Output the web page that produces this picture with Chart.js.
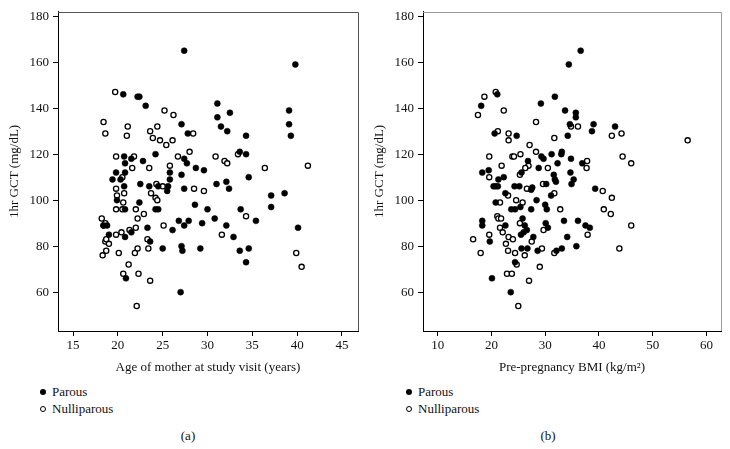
<!DOCTYPE html>
<html>
<head>
<meta charset="utf-8">
<script src="https://cdn.jsdelivr.net/npm/chart.js@4"></script>
<style>
    body { margin: 0; background: #fff; width: 730px; height: 449px; overflow: hidden; position: relative;
           font-family: 'Liberation Serif', 'DejaVu Serif', serif; color: #111; }
    canvas { position: absolute; top: 0; }
    #chart-a { left: 0; }
    #chart-b { left: 365px; }
    .legend { position: absolute; font-size: 13px; line-height: 17px; }
    .legend div { white-space: nowrap; }
    .dot { display: inline-block; width: 6px; height: 6px; border-radius: 50%; margin-right: 6px;
           box-sizing: border-box; vertical-align: 1px; }
    .dot.filled { background: #000; }
    .dot.open { border: 1.3px solid #000; background: #fff; }
    .panel-label { position: absolute; font-size: 13px; top: 428px; width: 40px; text-align: center; }
</style>
</head>
<body>
<canvas id="chart-a" width="365" height="376"></canvas>
<canvas id="chart-b" width="365" height="376"></canvas>

<div class="legend" style="left:40px; top:383px;">
    <div><span class="dot filled"></span>Parous</div>
    <div><span class="dot open"></span>Nulliparous</div>
</div>
<div class="legend" style="left:406px; top:383px;">
    <div><span class="dot filled"></span>Parous</div>
    <div><span class="dot open"></span>Nulliparous</div>
</div>
<div class="panel-label" style="left:168px;">(a)</div>
<div class="panel-label" style="left:528px;">(b)</div>

<script>
/**
 * 1hr GCT against maternal age and pre-pregnancy BMI, by parity
 */

// Shared axis ticks
const yTicks = [60, 80, 100, 120, 140, 160, 180];
const xTicksA = [15, 20, 25, 30, 35, 40, 45];
const xTicksB = [10, 20, 30, 40, 50, 60];

// Panel (a): age of mother at study visit (years)
const ageParous = [27.4, 39.8, 20.6, 22.2, 22.4, 23.1, 31.1, 31.1, 32.5, 31.5, 32.2, 39.1, 39.1, 39.3, 27.1, 27.8, 34.3,
    24.2, 20.7, 20.8, 21.5, 22.8, 27.4, 27.7, 28.7, 29.6, 33.6, 34.3, 34.6, 19.4, 19.8, 20.3, 20.8, 20.7, 22.5, 23.5,
    24.5, 25.8, 25.8, 25.6, 25.5, 27.1, 27.4, 31.0, 32.1, 32.4, 37.1, 38.6, 19.9, 20.8, 22.4, 24.2, 24.5, 28.6, 30.0,
    33.7, 37.1, 18.4, 18.8, 19.0, 20.8, 21.5, 23.3, 23.6, 25.0, 26.1, 26.8, 27.1, 27.2, 27.4, 27.9, 29.4, 29.2, 30.8,
    32.1, 32.9, 33.6, 34.6, 34.3, 35.4, 40.1, 20.9, 27.0];
const gctParousA = [165, 159, 146, 145, 145, 141, 142, 136, 138, 132, 130, 139, 133, 128, 133, 129, 128,
    120, 119, 116, 118, 117, 118, 116, 114, 113, 121, 120, 110, 109, 112, 109, 112, 106, 107, 106,
    106, 112, 109, 106, 104, 111, 105, 107, 108, 105, 102, 103, 100, 96, 99, 96, 96, 98, 96,
    96, 97, 89, 89, 85, 84, 86, 88, 82, 79, 87, 91, 80, 78, 89, 91, 90, 79, 92,
    89, 84, 78, 79, 73, 91, 88, 66, 60];
const ageNulli = [19.7, 18.4, 18.6, 21.1, 21.0, 23.6, 24.4, 23.9, 24.7, 25.4, 26.1, 25.2, 26.2, 28.4, 19.8, 21.8, 21.6,
    23.5, 26.7, 28.0, 25.8, 30.9, 31.9, 32.2, 33.4, 36.4, 41.2, 20.5, 19.8, 20.7, 19.9, 24.3, 25.0, 28.5, 29.6, 23.7,
    24.2, 24.4, 20.6, 19.8, 20.5, 22.0, 22.9, 22.2, 18.2, 18.4, 18.6, 18.6, 18.7, 19.0, 18.7, 18.3, 19.8, 20.4, 21.3,
    22.0, 23.3, 23.4, 22.2, 21.9, 20.1, 21.2, 20.6, 22.3, 23.6, 22.1, 25.1, 31.6, 34.3, 39.9, 40.5];
const gctNulliA = [147, 134, 129, 132, 128, 130, 132, 127, 126, 124, 126, 139, 137, 129, 119, 119, 114,
    114, 119, 121, 115, 119, 117, 116, 120, 114, 115, 110, 105, 103, 102, 107, 106, 105, 104, 103,
    101, 100, 99, 96, 96, 96, 94, 92, 92, 89, 90, 82, 83, 81, 78, 76, 85, 86, 87,
    88, 83, 79, 79, 77, 77, 72, 68, 68, 65, 54, 89, 85, 93, 77, 71];

// Panel (b): pre-pregnancy BMI (kg/m2)
const bmiParous = [36.6, 34.4, 31.8, 29.2, 33.7, 35.7, 35.7, 34.6, 39.0, 43.0, 38.7, 34.2, 24.7, 20.6, 18.1, 21.1,
    18.3, 19.5, 21.3, 22.3, 20.4, 20.8, 21.2, 24.3, 25.2, 25.6, 26.8, 27.4, 27.6, 28.8, 29.3, 29.7, 28.4, 31.2,
    31.6, 31.8, 32.0, 32.3, 33.0, 33.1, 34.8, 34.7, 34.9, 35.3, 36.9, 39.3, 31.1, 30.2, 20.8, 23.7, 24.4, 25.4,
    27.4, 30.0, 30.3, 18.3, 18.3, 19.7, 22.6, 25.8, 26.2, 26.6, 25.5, 26.0, 27.8, 30.1, 30.5, 33.5, 36.1, 37.5,
    38.3, 34.1, 35.8, 33.1, 32.1, 28.6, 25.6, 26.7, 24.4, 20.1, 23.6, 22.6];
const gctParousB = [165, 159, 145, 142, 139, 138, 136, 133, 133, 132, 130, 128, 128, 129, 141, 146,
    112, 113, 109, 110, 106, 106, 106, 106, 106, 112, 117, 104.5, 105.5, 114, 119, 118, 100, 120,
    111, 109, 108, 116, 120, 121, 118, 112, 107, 109, 116, 105, 102, 107, 99, 96, 96, 97,
    96, 98, 96, 91, 89, 82, 89, 92, 89, 87, 85, 86, 84, 90, 88, 91, 91, 89,
    88, 84, 80, 79, 78, 78, 79, 79, 73, 66, 60, 103];
const bmiNulli = [20.8, 18.7, 17.5, 22.3, 21.2, 23.2, 23.2, 28.3, 31.7, 34.8, 36.1, 42.4, 44.2, 56.5, 19.6, 23.9,
    24.2, 25.4, 27.1, 28.3, 21.9, 19.6, 26.9, 26.3, 25.3, 30.5, 37.8, 37.7, 44.4, 46.0, 26.6, 29.6, 31.7, 40.7,
    42.4, 23.1, 24.6, 25.8, 21.6, 32.8, 40.9, 42.2, 46.0, 37.9, 43.8, 21.1, 21.3, 21.8, 21.6, 22.1, 23.2, 24.0,
    19.6, 16.6, 18.0, 22.7, 23.1, 24.4, 24.7, 26.2, 25.3, 27.5, 29.7, 29.4, 29.0, 31.7, 22.9, 23.8, 27.0, 25.0];
const gctNulliB = [147, 145, 137, 139, 130, 129, 126, 134, 127, 132, 132, 128, 129, 126, 119, 119,
    119, 120, 124, 121, 115, 110, 115, 114, 111, 114, 117, 114, 119, 116, 105, 107, 103, 104,
    101, 102, 100, 99, 99, 96, 96, 94, 89, 85, 79, 93, 92, 92, 88, 86, 84, 83,
    85, 83, 77, 81, 78, 77, 72, 76, 90, 82, 87, 79, 71, 77, 68, 68, 65, 54];

// Axis limits (chart area edges)
const yRange = [43.1, 181.9];
const xRangeA = [13.32, 46.79];
const xRangeB = [7.28, 62.7];

const FONT = "'Liberation Serif', 'DejaVu Serif', serif";

// Chart objects
let chartA = null;
let chartB = null;

/**
 * Zip two value lists into scatter points
 */
function toPoints(xs, ys) {
    return xs.map((x, i) => ({ x: x, y: ys[i] }));
}

/**
 * Draws the top and right edges of the plot frame
 */
const framePlugin = {
    id: 'frame',
    afterDraw(chart, args, opts) {
        const { ctx, chartArea: a } = chart;
        ctx.save();
        ctx.strokeStyle = opts.color || '#555';
        ctx.lineWidth = 1;
        ctx.beginPath();
        ctx.moveTo(a.left, Math.round(a.top) + 0.5);
        ctx.lineTo(Math.round(a.right) + 0.5, Math.round(a.top) + 0.5);
        ctx.lineTo(Math.round(a.right) + 0.5, a.bottom);
        ctx.stroke();
        ctx.restore();
    }
};

/**
 * Create one scatter panel
 * @param {string} id - canvas id
 * @param {Array} parous - parous points
 * @param {Array} nulli - nulliparous points
 * @param {Array} xRange - x axis limits
 * @param {Array} xTicks - x tick values
 * @param {string} xTitle - x axis title
 * @param {number} rightPad - right padding of the chart area
 * @param {string} frameColor - colour of the top/right frame
 */
function createPanel(id, parous, nulli, xRange, xTicks, xTitle, rightPad, frameColor) {
    const ctx = document.getElementById(id).getContext('2d');

    return new Chart(ctx, {
        type: 'scatter',
        data: {
            datasets: [
                {
                    label: 'Parous',
                    data: parous,
                    pointRadius: 3,
                    pointBackgroundColor: '#000',
                    pointBorderColor: '#000',
                    pointBorderWidth: 0.5
                },
                {
                    label: 'Nulliparous',
                    data: nulli,
                    pointRadius: 2.6,
                    pointBackgroundColor: '#fff',
                    pointBorderColor: '#000',
                    pointBorderWidth: 1.3
                }
            ]
        },
        options: {
            responsive: false,
            animation: false,
            devicePixelRatio: 1,
            layout: { padding: { left: 0, top: 8, right: rightPad, bottom: 0 } },
            scales: {
                x: {
                    type: 'linear',
                    min: xRange[0],
                    max: xRange[1],
                    afterBuildTicks: s => { s.ticks = xTicks.map(v => ({ value: v })); },
                    afterFit: s => { s.height = 45; },
                    grid: { drawOnChartArea: false, drawTicks: true, tickLength: 5, color: '#000' },
                    border: { display: true, color: '#000', width: 1 },
                    ticks: { color: '#111', padding: 2, font: { family: FONT, size: 13 } },
                    title: {
                        display: true,
                        text: xTitle,
                        color: '#111',
                        padding: { top: 0, bottom: 1 },
                        font: { family: FONT, size: 13 }
                    }
                },
                y: {
                    type: 'linear',
                    min: yRange[0],
                    max: yRange[1],
                    afterBuildTicks: s => { s.ticks = yTicks.map(v => ({ value: v })); },
                    afterFit: s => { s.width = 58; },
                    grid: { drawOnChartArea: false, drawTicks: true, tickLength: 5, color: '#000' },
                    border: { display: true, color: '#000', width: 1 },
                    ticks: { color: '#111', padding: 4, font: { family: FONT, size: 13 } },
                    title: {
                        display: true,
                        text: '1hr GCT (mg/dL)',
                        color: '#111',
                        padding: { top: 7, bottom: 0 },
                        font: { family: FONT, size: 13 }
                    }
                }
            },
            plugins: {
                legend: { display: false },
                tooltip: { enabled: false },
                frame: { color: frameColor }
            }
        },
        plugins: [framePlugin]
    });
}

chartA = createPanel('chart-a', toPoints(ageParous, gctParousA), toPoints(ageNulli, gctNulliA),
    xRangeA, xTicksA, 'Age of mother at study visit (years)', 7, '#555');
chartB = createPanel('chart-b', toPoints(bmiParous, gctParousB), toPoints(bmiNulli, gctNulliB),
    xRangeB, xTicksB, ['Pre-pregnancy BMI (kg/m\u00B2)'], 9, '#999');
</script>
</body>
</html>
